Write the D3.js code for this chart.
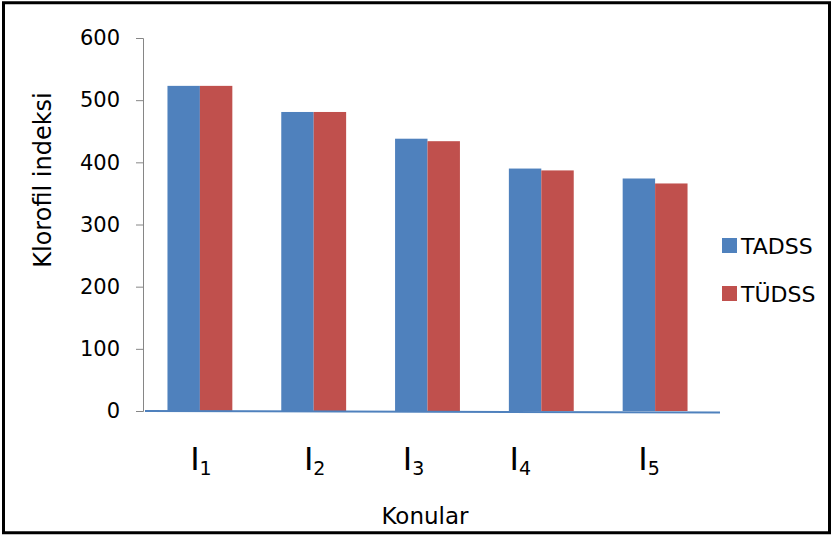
<!DOCTYPE html>
<html>
<head>
<meta charset="utf-8">
<script src="https://cdn.jsdelivr.net/npm/d3@7"></script>
<style>
  html, body { margin: 0; padding: 0; background: #fff; }
  svg { display: block; font-family: "DejaVu Sans", sans-serif; }
</style>
</head>
<body>
<svg id="chart" width="832" height="536"></svg>
<script>
// ---- data ----
const categories = ["1", "2", "3", "4", "5"];          // subscripts of I
const seriesNames = ["TADSS", "TÜDSS"];
const tadss = [523, 481, 438, 390, 374];
const tudss = [523, 481, 434, 387, 366];
const yTicks = [0, 100, 200, 300, 400, 500, 600];
const yTitle = "Klorofil indeksi";
const xTitle = "Konular";

// ---- layout ----
const colors = ["#4f81bd", "#c0504d"];
const labelNudge = [1, 1, -14, -21, -6];

const svg = d3.select("#chart");

// outer frame
svg.append("rect")
  .attr("x", 3.5).attr("y", 2.75).attr("width", 826).attr("height", 530)
  .attr("fill", "none").attr("stroke", "#000").attr("stroke-width", 3);

const x0 = d3.scaleBand().domain(categories).range([143, 712])
  .paddingInner(0.43).paddingOuter(0.215);
const x1 = d3.scaleBand().domain(seriesNames).range([0, x0.bandwidth()]);
const y = d3.scaleLinear().domain([0, 600]).range([411, 38]);

const rows = categories.map((c, i) => ({ c, vals: [tadss[i], tudss[i]] }));

// y axis
const yAxis = d3.axisLeft(y).tickValues(yTicks).tickSize(7).tickPadding(16);
const gy = svg.append("g").attr("transform", "translate(143,0)").call(yAxis);
gy.select(".domain").attr("stroke", "#868686").attr("stroke-width", 1);
gy.selectAll(".tick line").attr("stroke", "#868686");
gy.selectAll(".tick text").attr("font-size", 21).attr("fill", "#000")
  .attr("font-family", "DejaVu Sans, sans-serif");

// bars
const groups = svg.append("g").selectAll("g").data(rows).join("g")
  .attr("transform", d => `translate(${x0(d.c)},0)`);
groups.selectAll("rect")
  .data(d => d.vals.map((v, k) => ({ v, k })))
  .join("rect")
  .attr("x", d => x1(seriesNames[d.k]))
  .attr("width", x1.bandwidth())
  .attr("y", d => y(d.v))
  .attr("height", d => y(0) - y(d.v))
  .attr("fill", d => colors[d.k]);

// x axis line (blue, as in the reference)
svg.append("line")
  .attr("x1", 145).attr("x2", 720)
  .attr("y1", y(0)).attr("y2", y(0) + 1.5)
  .attr("stroke", "#4f81bd").attr("stroke-width", 2);

// x category labels: I with subscript
const xl = svg.append("g").selectAll("text").data(categories).join("text")
  .attr("x", (d, i) => x0(d) + x0.bandwidth() / 2 + labelNudge[i])
  .attr("y", 470)
  .attr("text-anchor", "middle")
  .attr("fill", "#000");
xl.append("tspan").attr("font-size", 32).text("I");
xl.append("tspan").attr("font-size", 19).attr("dy", 5).text(d => d);

// axis titles
svg.append("text")
  .attr("transform", "translate(51,180) rotate(-90)")
  .attr("text-anchor", "middle").attr("font-size", 24).attr("fill", "#000")
  .text(yTitle);
svg.append("text")
  .attr("x", 425).attr("y", 524)
  .attr("text-anchor", "middle").attr("font-size", 23).attr("fill", "#000")
  .text(xTitle);

// legend
const leg = svg.append("g").selectAll("g").data(seriesNames).join("g")
  .attr("transform", (d, i) => `translate(722,${238 + i * 48})`);
leg.append("rect").attr("width", 15).attr("height", 15)
  .attr("fill", (d, i) => colors[i]);
leg.append("text").attr("x", 19).attr("y", 15.5)
  .attr("font-size", 22).attr("fill", "#000").text(d => d);
</script>
</body>
</html>
